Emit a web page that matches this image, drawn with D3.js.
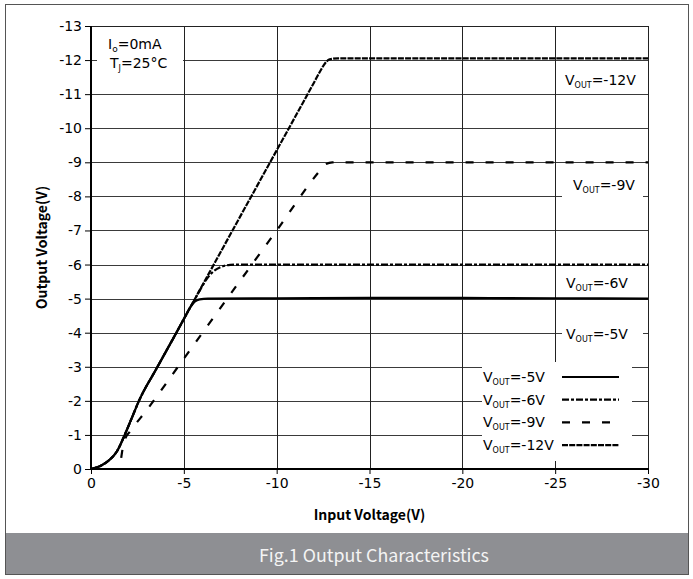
<!DOCTYPE html>
<html>
<head>
<meta charset="utf-8">
<script src="https://cdn.jsdelivr.net/npm/d3@7"></script>
<style>
  body { margin: 0; background: #fff; }
  svg { display: block; }
  .tick text { font: 14px "DejaVu Sans", sans-serif; fill: #000; }
  .note { font: 14px "DejaVu Sans", sans-serif; fill: #000; }
  .title { font: bold 14px "Noto Sans CJK SC", sans-serif; fill: #000; }
</style>
</head>
<body>
<svg id="chart" width="693" height="579"></svg>
<script>
// axis ticks
const xTicks = [0, -5, -10, -15, -20, -25, -30];
const yTicks = [0, -1, -2, -3, -4, -5, -6, -7, -8, -9, -10, -11, -12, -13];

// curves (input V, output V)
const vin5  = [0, -0.5, -1.0, -1.4, -1.8, -2.2, -2.6, -3.5, -4.5, -5.0, -5.35, -5.6, -5.85, -6.3, -10, -15, -20, -25, -30];
const vout5 = [0, -0.09, -0.27, -0.52, -0.98, -1.5, -2.02, -2.92, -3.9, -4.4, -4.75, -4.92, -4.98, -5.0, -5.01, -5.02, -5.02, -5.01, -5.0];

const vin6  = [0, -0.5, -1.0, -1.4, -1.8, -2.2, -2.6, -3.5, -4.5, -5.0, -5.6, -5.9, -6.2, -6.6, -7.0, -7.5, -8.0, -10, -15, -20, -25, -30];
const vout6 = [0, -0.09, -0.27, -0.52, -0.98, -1.5, -2.02, -2.92, -3.9, -4.4, -4.99, -5.28, -5.55, -5.8, -5.93, -5.99, -6.0, -6.0, -6.0, -6.0, -6.0, -6.0];

const vin9  = [0, -1.55, -1.62, -1.72, -1.85, -2.1, -3.0, -5.0, -8.0, -10.0, -12.2, -12.6, -13.0, -15, -20, -25, -30];
const vout9 = [0, 0, -0.3, -0.65, -0.9, -1.1, -1.73, -3.24, -5.5, -7.0, -8.67, -8.93, -9.0, -9.0, -9.0, -9.0, -9.0];

const vin12  = [0, -0.5, -1.0, -1.4, -1.8, -2.2, -2.6, -3.5, -5.0, -7.5, -10.0, -12.0, -12.35, -12.6, -12.85, -13.3, -15, -20, -25, -30];
const vout12 = [0, -0.09, -0.27, -0.52, -0.98, -1.5, -2.02, -2.92, -4.4, -6.88, -9.35, -11.33, -11.68, -11.9, -12.02, -12.05, -12.05, -12.05, -12.05, -12.05];

const names = ['-5V', '-6V', '-9V', '-12V'];
const dashes = [null, '7,2,3,2', '8,12', '6,1.2'];

const svg = d3.select('#chart');
const W = 693, H = 579;
const pLeft = 91, pRight = 648, pTop = 26, pBottom = 469;

const x = d3.scaleLinear().domain([0, -30]).range([pLeft, pRight]);
const y = d3.scaleLinear().domain([0, -13]).range([pBottom, pTop]);

// outer frame and caption bar
svg.append('rect').attr('x', 5.5).attr('y', 4.5).attr('width', W - 10).attr('height', H - 9)
  .attr('fill', '#fff').attr('stroke', '#555').attr('stroke-width', 1);
svg.append('rect').attr('x', 6).attr('y', 533).attr('width', W - 11).attr('height', H - 538)
  .attr('fill', '#8e8f93');
const caption = svg.append('text').attr('x', 374).attr('y', 562).attr('text-anchor', 'middle')
  .style('font-family', '"Noto Sans CJK SC", sans-serif').style('font-size', '20px')
  .attr('fill', '#f4f4f4')
  .text('Fig.1 Output Characteristics');
// the original caption runs about 230px wide
const capLen = caption.node().getComputedTextLength();
if (capLen > 0) caption.style('font-size', (20 * 230 / capLen).toFixed(2) + 'px');

// grid
const grid = svg.append('g');
grid.selectAll('.hg').data(yTicks.slice(1)).enter().append('line')
  .attr('x1', pLeft).attr('x2', pRight)
  .attr('y1', (d) => Math.round(y(d)) + 0.5).attr('y2', (d) => Math.round(y(d)) + 0.5)
  .attr('stroke', '#3a3a3a').attr('stroke-width', 1);
grid.selectAll('.vg').data(xTicks.slice(1)).enter().append('line')
  .attr('y1', pTop).attr('y2', pBottom)
  .attr('x1', (d) => Math.round(x(d)) + 0.5).attr('x2', (d) => Math.round(x(d)) + 0.5)
  .attr('stroke', '#222').attr('stroke-width', 1);

// white boxes under notes (cut the grid like the original)
function box(x0, y0, x1, y1) {
  svg.append('rect').attr('x', x0).attr('y', y0).attr('width', x1 - x0).attr('height', y1 - y0)
    .attr('fill', '#fff');
}
box(97, 30, 183, 88);
box(557, 63, 646, 93);
box(562, 170, 643, 200);
box(562, 322, 643, 347);
box(482, 362, 632, 461);

// axes
const fmt = (d) => String(d);
const yAxis = d3.axisLeft(y).tickValues(yTicks).tickSize(6).tickPadding(3).tickFormat(fmt);
const xAxis = d3.axisBottom(x).tickValues(xTicks).tickSize(5).tickPadding(4).tickFormat(fmt);

const gy = svg.append('g').attr('transform', 'translate(' + pLeft + ',0)').call(yAxis);
const gx = svg.append('g').attr('transform', 'translate(0,' + pBottom + ')').call(xAxis);
[gy, gx].forEach((g) => {
  g.select('.domain').remove();
  g.selectAll('.tick line').attr('stroke', '#000');
});

// curves
const line = d3.line()
  .x((d) => x(d[0]))
  .y((d) => y(d[1]))
  .curve(d3.curveMonotoneX);

const series = [
  {name: names[0], pts: d3.zip(vin5, vout5), dash: dashes[0]},
  {name: names[1], pts: d3.zip(vin6, vout6), dash: dashes[1]},
  {name: names[2], pts: d3.zip(vin9, vout9), dash: dashes[2]},
  {name: names[3], pts: d3.zip(vin12, vout12), dash: dashes[3]},
];

svg.append('g').selectAll('path').data(series).enter().append('path')
  .attr('d', (d) => line(d.pts))
  .attr('fill', 'none')
  .attr('stroke', '#000')
  .attr('stroke-width', 2.2)
  .attr('stroke-dasharray', (d) => d.dash);

// frame: top and right thin, left and bottom thick
svg.append('line').attr('x1', pLeft).attr('x2', pRight).attr('y1', pTop + 0.5).attr('y2', pTop + 0.5)
  .attr('stroke', '#222');
svg.append('line').attr('x1', pRight + 0.5).attr('x2', pRight + 0.5).attr('y1', pTop).attr('y2', pBottom)
  .attr('stroke', '#222');
svg.append('line').attr('x1', pLeft).attr('x2', pLeft).attr('y1', pTop).attr('y2', pBottom + 1)
  .attr('stroke', '#000').attr('stroke-width', 2);
svg.append('line').attr('x1', pLeft - 1).attr('x2', pRight + 1).attr('y1', pBottom).attr('y2', pBottom)
  .attr('stroke', '#000').attr('stroke-width', 2);

// V_OUT label with subscript
function vout(g, tx, ty, name) {
  const t = g.append('text').attr('class', 'note').attr('x', tx).attr('y', ty);
  t.append('tspan').text('V');
  t.append('tspan').attr('dy', 3).style('font-size', '8px').text('OUT');
  t.append('tspan').attr('dy', -3).text('=' + name);
  return t;
}

const notes = svg.append('g');
vout(notes, 565, 85, names[3]);
vout(notes, 573, 190, names[2]);
vout(notes, 566, 288, names[1]);
vout(notes, 566, 339, names[0]);

// I_o / T_J annotation
const io = notes.append('text').attr('class', 'note').attr('x', 108).attr('y', 49);
io.append('tspan').text('I');
io.append('tspan').attr('dy', 3).style('font-size', '9px').text('o');
io.append('tspan').attr('dy', -3).text('=0mA');
const tj = notes.append('text').attr('class', 'note').attr('x', 110).attr('y', 68);
tj.append('tspan').text('T');
tj.append('tspan').attr('dy', 3).style('font-size', '8px').text('J');
tj.append('tspan').attr('dy', -3).text('=25°C');

// legend
const legend = svg.append('g');
series.forEach((s, i) => {
  const ly = 377 + i * 22.7;
  vout(legend, 483, ly + 5, s.name);
  legend.append('line').attr('x1', 562).attr('x2', 619).attr('y1', ly).attr('y2', ly)
    .attr('stroke', '#000').attr('stroke-width', 2.2)
    .attr('stroke-dasharray', s.dash);
});

// axis titles
svg.append('text').attr('class', 'title').attr('text-anchor', 'middle')
  .attr('transform', 'translate(47,' + (pTop + pBottom) / 2 + ') rotate(-90)')
  .text('Output Voltage(V)');
svg.append('text').attr('class', 'title').attr('text-anchor', 'middle')
  .attr('x', (pLeft + pRight) / 2).attr('y', 520)
  .text('Input Voltage(V)');
</script>
</body>
</html>
